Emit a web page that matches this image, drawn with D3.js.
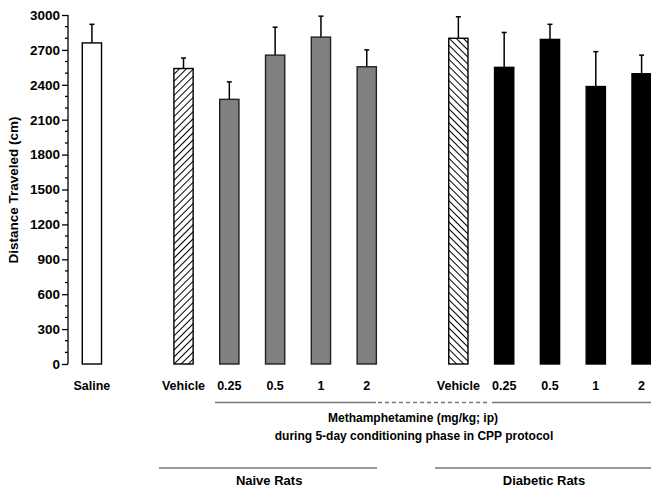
<!DOCTYPE html>
<html>
<head>
<meta charset="utf-8">
<script src="https://cdn.jsdelivr.net/npm/d3@7"></script>
<style>
  body { margin: 0; background: #fff; }
  text { font-family: "Liberation Sans", Arial, sans-serif; font-weight: bold; fill: #000; }
</style>
</head>
<body>
<div id="chart"></div>
<script>
// data
const groups = ["control", "naive", "naive", "naive", "naive", "naive",
                "diabetic", "diabetic", "diabetic", "diabetic", "diabetic"];
const labels = ["Saline", "Vehicle", "0.25", "0.5", "1", "2",
                "Vehicle", "0.25", "0.5", "1", "2"];
const means = [2760, 2540, 2275, 2655, 2810, 2555, 2800, 2550, 2790, 2385, 2495];
const sems  = [160, 90, 150, 240, 180, 145, 185, 300, 130, 300, 160];
const fills = ["white", "hatchA", "#808080", "#808080", "#808080", "#808080",
               "hatchB", "#000", "#000", "#000", "#000"];
const yTicks = [0, 300, 600, 900, 1200, 1500, 1800, 2100, 2400, 2700, 3000];

const width = 651, height = 491;
const svg = d3.select("#chart").append("svg")
    .attr("width", width)
    .attr("height", height);

// hatch patterns
const defs = svg.append("defs");
function hatch(id, angle) {
  const p = defs.append("pattern")
      .attr("id", id)
      .attr("patternUnits", "userSpaceOnUse")
      .attr("width", 5).attr("height", 5)
      .attr("patternTransform", `rotate(${angle})`);
  p.append("rect").attr("width", 5).attr("height", 5).attr("fill", "#fff");
  p.append("line").attr("x1", 0).attr("y1", 0).attr("x2", 0).attr("y2", 5)
      .attr("stroke", "#000").attr("stroke-width", 2);
}
hatch("hatchA", 45);
hatch("hatchB", -45);

// slots: insert a blank slot between groups
const keys = [];
groups.forEach(function(g, i) {
  if (i > 0 && g !== groups[i - 1]) keys.push("gap" + i);
  keys.push("b" + i);
});

const xScale = d3.scaleBand()
    .domain(keys)
    .range([69, 664.5])
    .paddingInner(0.58)
    .paddingOuter(0.29);

const yScale = d3.scaleLinear()
    .domain([0, 3000])
    .range([364, 15]);

// y axis
const yAxis = svg.append("g")
    .attr("transform", "translate(68,0)")
    .call(d3.axisLeft(yScale).tickValues(yTicks).tickFormat(d3.format("d"))
        .tickSize(6).tickPadding(2));
yAxis.select(".domain").attr("stroke-width", 1.3).attr("d", "M0,364V15");
yAxis.selectAll(".tick line").attr("stroke-width", 1.3);
yAxis.selectAll(".tick text")
    .style("font-size", "13.5px")
    .attr("fill", "#000");

// minor ticks
yAxis.selectAll(".minor")
    .data(d3.range(100, 3000, 100).filter(function(v) { return v % 300 !== 0; }))
    .enter().append("line")
    .attr("class", "minor")
    .attr("x1", -3).attr("x2", 0)
    .attr("y1", function(d) { return yScale(d); })
    .attr("y2", function(d) { return yScale(d); })
    .attr("stroke", "#000").attr("stroke-width", 1.3);

// y label
svg.append("text")
    .attr("transform", "translate(18,190) rotate(-90)")
    .attr("text-anchor", "middle")
    .style("font-size", "13.5px")
    .text("Distance Traveled (cm)");

const bars = labels.map(function(l, i) {
  return { key: "b" + i, label: l, mean: means[i], sem: sems[i], fill: fills[i] };
});

// error bars (behind)
const err = svg.append("g").selectAll("g")
    .data(bars).enter().append("g");
err.append("line")
    .attr("x1", function(d) { return xScale(d.key) + xScale.bandwidth() / 2; })
    .attr("x2", function(d) { return xScale(d.key) + xScale.bandwidth() / 2; })
    .attr("y1", function(d) { return yScale(d.mean); })
    .attr("y2", function(d) { return yScale(d.mean + d.sem); })
    .attr("stroke", "#000").attr("stroke-width", 1.5);
err.append("line")
    .attr("x1", function(d) { return xScale(d.key) + xScale.bandwidth() / 2 - 2.5; })
    .attr("x2", function(d) { return xScale(d.key) + xScale.bandwidth() / 2 + 2.5; })
    .attr("y1", function(d) { return yScale(d.mean + d.sem); })
    .attr("y2", function(d) { return yScale(d.mean + d.sem); })
    .attr("stroke", "#000").attr("stroke-width", 1.5);

// bars
svg.append("g").selectAll("rect")
    .data(bars).enter().append("rect")
    .attr("x", function(d) { return xScale(d.key); })
    .attr("y", function(d) { return yScale(d.mean); })
    .attr("width", xScale.bandwidth())
    .attr("height", function(d) { return yScale(0) - yScale(d.mean); })
    .attr("fill", function(d) { return d.fill.indexOf("hatch") === 0 ? `url(#${d.fill})` : d.fill; })
    .attr("stroke", function(d) { return d.fill === "#808080" ? "#222" : "#000"; })
    .attr("stroke-width", 1.4);

// category labels
svg.append("g").selectAll("text")
    .data(bars).enter().append("text")
    .attr("x", function(d) { return xScale(d.key) + xScale.bandwidth() / 2; })
    .attr("y", 390)
    .attr("text-anchor", "middle")
    .style("font-size", "12.5px")
    .text(function(d) { return d.label; });

// bracket lines
const cx = function(i) { return xScale("b" + i) + xScale.bandwidth() / 2; };
const lines = svg.append("g").attr("stroke", "#777").attr("stroke-width", 1.3);
lines.append("line").attr("x1", 215).attr("x2", 376).attr("y1", 402.5).attr("y2", 402.5);
lines.append("line").attr("x1", 378).attr("x2", 490).attr("y1", 402.5).attr("y2", 402.5)
    .attr("stroke-dasharray", "4,3");
lines.append("line").attr("x1", 492).attr("x2", 660).attr("y1", 402.5).attr("y2", 402.5);
lines.append("line").attr("x1", 159).attr("x2", 377).attr("y1", 468).attr("y2", 468);
lines.append("line").attr("x1", 435).attr("x2", 660).attr("y1", 468).attr("y2", 468);

svg.append("text")
    .attr("x", 413).attr("y", 422)
    .attr("text-anchor", "middle")
    .style("font-size", "12px")
    .text("Methamphetamine (mg/kg; ip)");
svg.append("text")
    .attr("x", 414).attr("y", 439.5)
    .attr("text-anchor", "middle")
    .style("font-size", "12px")
    .text("during 5-day conditioning phase in CPP protocol");

svg.append("text")
    .attr("x", (cx(1) + cx(5)) / 2 - 6).attr("y", 485)
    .attr("text-anchor", "middle")
    .style("font-size", "13px")
    .text("Naive Rats");
svg.append("text")
    .attr("x", 544).attr("y", 485)
    .attr("text-anchor", "middle")
    .style("font-size", "13px")
    .text("Diabetic Rats");
</script>
</body>
</html>
